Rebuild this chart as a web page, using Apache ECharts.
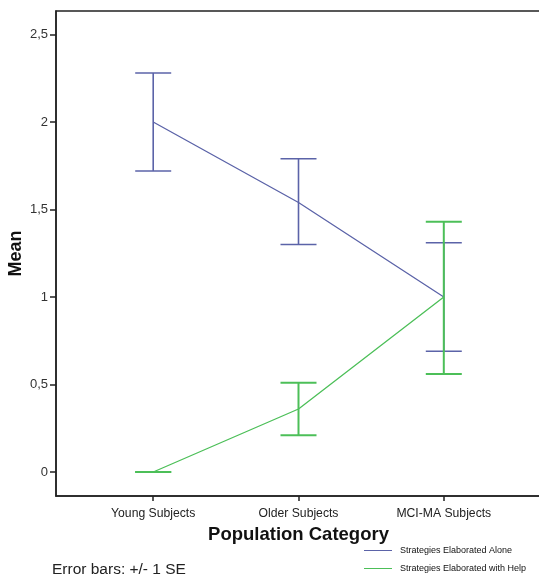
<!DOCTYPE html>
<html>
<head>
<meta charset="utf-8">
<script src="https://cdn.jsdelivr.net/npm/echarts@6/dist/echarts.min.js"></script>
<style>html,body{margin:0;padding:0;background:#fff;}#c{width:539px;height:576px;}</style>
</head>
<body>
<div id="c"></div>
<script>
const categories = ['Young Subjects', 'Older Subjects', 'MCI-MA Subjects'];
const seriesNames = ['Strategies Elaborated Alone', 'Strategies Elaborated with Help'];
const meanAlone = [2.0, 1.54, 1.0];
const lowAlone = [1.72, 1.30, 0.69];
const highAlone = [2.28, 1.79, 1.31];
const meanHelp = [0.0, 0.36, 1.0];
const lowHelp = [0.0, 0.21, 0.56];
const highHelp = [0.0, 0.51, 1.43];
const yTicks = [0, 0.5, 1, 1.5, 2, 2.5];

const blue = '#5b63a8';
const green = '#4cbf58';
const font = 'Liberation Sans, Arial';

function errData(lo, hi) { return categories.map((c, i) => [i, lo[i], hi[i]]); }
function errSeries(name, lo, hi, color, z, w) {
  return {
    type: 'custom', name: name + ' err', silent: true, z: z,
    data: errData(lo, hi),
    encode: { x: 0, y: [1, 2] },
    renderItem: function (params, api) {
      const x = api.value(0);
      const pLo = api.coord([x, api.value(1)]);
      const pHi = api.coord([x, api.value(2)]);
      const hw = 18;
      const st = { stroke: color, lineWidth: w };
      return { type: 'group', children: [
        { type: 'line', shape: { x1: pLo[0], y1: pLo[1], x2: pHi[0], y2: pHi[1] }, style: st },
        { type: 'line', shape: { x1: pLo[0] - hw, y1: pLo[1], x2: pLo[0] + hw, y2: pLo[1] }, style: st },
        { type: 'line', shape: { x1: pHi[0] - hw, y1: pHi[1], x2: pHi[0] + hw, y2: pHi[1] }, style: st }
      ]};
    }
  };
}

function legendFor(name, top) {
  return {
    data: [name], orient: 'vertical', left: 364, top: top, padding: 0,
    itemWidth: 28, itemHeight: 8, icon: 'path://M0,3.5 L28,3.5 L28,4.5 L0,4.5 Z',
    textStyle: { fontSize: 9, fontFamily: font, color: '#111', padding: [0, 0, 0, 3] }
  };
}

const chart = echarts.init(document.getElementById('c'));
chart.setOption({
  animation: false,
  backgroundColor: '#fff',
  grid: { left: 56, top: 11, right: -2, bottom: 80, outerBoundsMode: 'none', containLabel: false, show: true, borderColor: '#222', borderWidth: 1.5, backgroundColor: 'transparent' },
  legend: [legendFor(seriesNames[0], 546), legendFor(seriesNames[1], 564)],
  xAxis: {
    type: 'value', min: -0.669, max: 2.669,
    name: 'Population Category', nameLocation: 'middle', nameGap: 29, nameMoveOverlap: false,
    nameTextStyle: { fontSize: 18.5, fontWeight: 'bold', fontFamily: font, color: '#111' },
    axisLine: { show: true, onZero: false, lineStyle: { color: '#222', width: 1.5 } },
    axisTick: { show: true, customValues: [0, 1, 2], length: 5, lineStyle: { color: '#222', width: 1.5 } },
    axisLabel: { customValues: [0, 1, 2], formatter: v => categories[Math.round(v)], fontSize: 12.2, margin: 12, color: '#222', fontFamily: font },
    splitLine: { show: false }
  },
  yAxis: {
    type: 'value', min: -0.137, max: 2.634,
    name: 'Mean', nameLocation: 'middle', nameGap: 31, nameRotate: 90, nameMoveOverlap: false,
    nameTextStyle: { fontSize: 18, fontWeight: 'bold', fontFamily: font, color: '#111' },
    axisLine: { show: true, onZero: false, lineStyle: { color: '#222', width: 1.5 } },
    axisTick: { show: true, customValues: yTicks, length: 6, lineStyle: { color: '#222', width: 1.5 } },
    axisLabel: { customValues: yTicks, formatter: v => String(v).replace('.', ','), fontSize: 13, margin: 8, color: '#333', fontFamily: font },
    splitLine: { show: false }
  },
  graphic: [
    { type: 'text', left: 52, top: 562, style: { text: 'Error bars: +/- 1 SE', fontSize: 15.5, fill: '#222', fontFamily: font } }
  ],
  series: [
    { type: 'line', name: seriesNames[0], data: meanAlone.map((v, i) => [i, v]), symbol: 'none', color: blue, lineStyle: { color: blue, width: 1.3 }, z: 4 },
    { type: 'line', name: seriesNames[1], data: meanHelp.map((v, i) => [i, v]), symbol: 'none', color: green, lineStyle: { color: green, width: 1.3 }, z: 4 },
    errSeries(seriesNames[0], lowAlone, highAlone, blue, 5, 1.6),
    errSeries(seriesNames[1], lowHelp, highHelp, green, 6, 2)
  ]
});
</script>
</body>
</html>
